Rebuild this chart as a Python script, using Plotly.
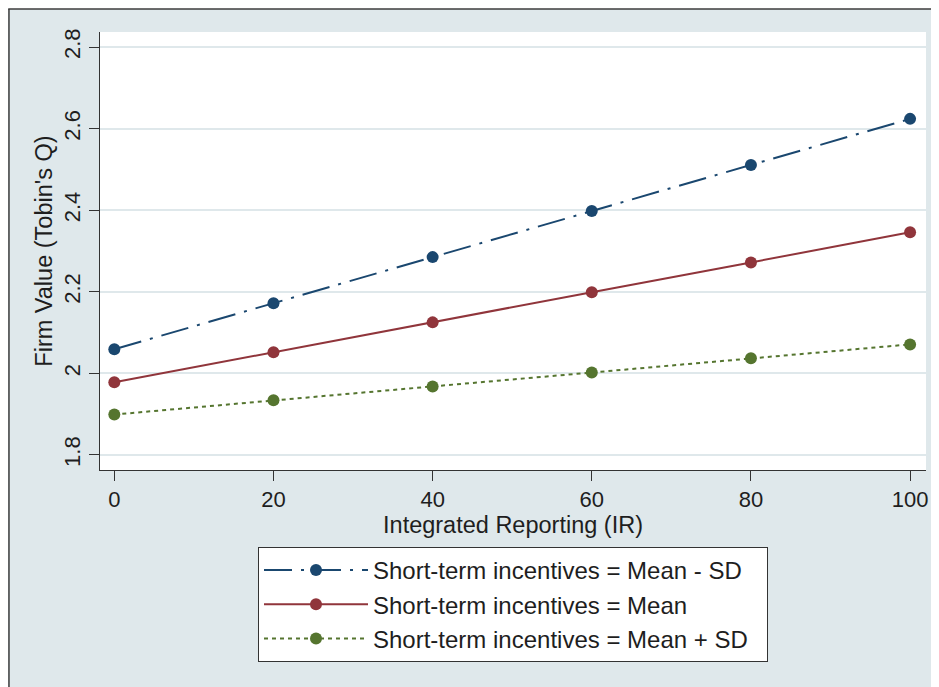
import plotly.graph_objects as go

ir_values = [0, 20, 40, 60, 80, 100]
mean_minus_sd = [2.059, 2.172, 2.285, 2.398, 2.511, 2.624]
mean_level = [1.978, 2.052, 2.125, 2.199, 2.272, 2.346]
mean_plus_sd = [1.899, 1.934, 1.968, 2.002, 2.037, 2.071]

series_names = [
    "Short-term incentives = Mean - SD",
    "Short-term incentives = Mean",
    "Short-term incentives = Mean + SD",
]
y_ticks = [1.8, 2.0, 2.2, 2.4, 2.6, 2.8]
y_tick_labels = ["1.8", "2", "2.2", "2.4", "2.6", "2.8"]
x_ticks = [0, 20, 40, 60, 80, 100]

FONT = "Liberation Sans, Arial, sans-serif"
BG = "#dfe8eb"
TXT = "#1e1e1e"

colors = ["#1a476f", "#90353b", "#55752f"]
dashes = ["28px,9px,3px,9px", "solid", "4px,4px"]
series = [mean_minus_sd, mean_level, mean_plus_sd]

fig = go.Figure()
for i, (name, ys, c, d) in enumerate(zip(series_names, series, colors, dashes)):
    # trailing non-breaking spaces widen the legend box's right padding
    label = name + "\u00a0\u00a0" if i == 2 else name
    fig.add_trace(go.Scatter(
        x=ir_values, y=ys, name=label, mode="lines+markers",
        line=dict(color=c, width=2, dash=d),
        marker=dict(color=c, size=12),
    ))

# page has an 8px body margin; figure coordinates are page - 8
W, H = 931, 679
L, R, T, B = 92, 11, 24, 217
pw, ph = W - L - R, H - T - B


def px_x(p):
    return (p - L) / pw


def px_y(p):
    return (H - B - p) / ph


shapes = [
    dict(type="rect", xref="paper", yref="paper", x0=-1, x1=2,
         y0=px_y(1), y1=2, fillcolor="white", line=dict(width=0), layer="below"),
    dict(type="line", xref="paper", yref="paper", x0=px_x(0.75), x1=px_x(0.75),
         y0=-1, y1=px_y(1), line=dict(color="#3c3c3c", width=1.5)),
    dict(type="line", xref="paper", yref="paper", x0=px_x(0), x1=2,
         y0=px_y(1), y1=px_y(1), line=dict(color="#3c3c3c", width=1.5)),
]

fig.update_layout(
    width=W, height=H,
    margin=dict(l=L, r=R, t=T, b=B),
    paper_bgcolor=BG, plot_bgcolor="white",
    font=dict(family=FONT, color=TXT, size=22),
    shapes=shapes,
    showlegend=True,
    legend=dict(
        x=0.5, xanchor="center", y=px_y(539), yanchor="top",
        bgcolor="white", bordercolor="#333333", borderwidth=1,
        font=dict(family=FONT, size=24, color=TXT),
        itemwidth=104, tracegroupgap=0,
    ),
    xaxis=dict(
        range=[-1.8, 102], tickvals=x_ticks, ticks="outside", ticklen=10,
        tickcolor="#333333", showgrid=False, zeroline=False,
        showline=True, linecolor="#333333", linewidth=1,
        tickfont=dict(size=22),
        title=dict(text="Integrated Reporting (IR)", font=dict(size=23.5), standoff=0),
    ),
    yaxis=dict(
        range=[1.763, 2.837], tickvals=y_ticks, ticktext=y_tick_labels,
        ticks="outside", ticklen=10, tickcolor="#333333", tickangle=-90,
        showgrid=True, gridcolor=BG, gridwidth=1.5, zeroline=False,
        showline=True, linecolor="#333333", linewidth=1,
        tickfont=dict(size=22),
        title=dict(text="Firm Value (Tobin's Q)", font=dict(size=23.5), standoff=0),
    ),
)

fig.write_html("out.html")
